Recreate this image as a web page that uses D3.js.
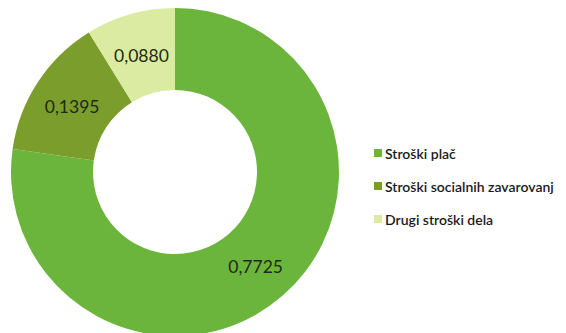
<!DOCTYPE html>
<html>
<head>
<meta charset="utf-8">
<script src="https://cdn.jsdelivr.net/npm/d3@7/dist/d3.min.js"></script>
<style>
  html, body { margin: 0; padding: 0; background: #fff; }
  svg { display: block; }
  text { font-family: Lato, "Open Sans", sans-serif; }
</style>
</head>
<body>
<svg id="chart" width="566" height="333"></svg>
<script>
// Labour cost structure (shares of total)
const categories = ["Stroški plač", "Stroški socialnih zavarovanj", "Drugi stroški dela"];
const values = [0.7725, 0.1395, 0.0880];
const valueLabels = ["0,7725", "0,1395", "0,0880"];
const colors = ["#6cb53c", "#7a9d2c", "#dbeca2"];

const svg = d3.select("#chart");
const cx = 175, cy = 172, outerR = 164, innerR = 82;

const pie = d3.pie().sort(null).value(d => d.value);
const arcs = pie(categories.map((c, i) => ({ name: c, value: values[i], label: valueLabels[i], color: colors[i] })));

const arc = d3.arc().innerRadius(innerR).outerRadius(outerR);

const g = svg.append("g").attr("transform", `translate(${cx},${cy})`);
g.selectAll("path.slice")
  .data(arcs)
  .join("path")
  .attr("class", "slice")
  .attr("d", arc)
  .attr("fill", d => d.data.color);

// Value labels at the middle of each ring segment
g.selectAll("text.val")
  .data(arcs)
  .join("text")
  .attr("class", "val")
  .attr("x", d => arc.centroid(d)[0])
  .attr("y", d => arc.centroid(d)[1] + 2)
  .attr("text-anchor", "middle")
  .attr("dominant-baseline", "central")
  .attr("font-size", 17.5)
  .attr("fill", "#1e2a14")
  .text(d => d.data.label);

// Legend
const legend = svg.append("g").attr("transform", "translate(374,153)");
const items = legend.selectAll("g.item")
  .data(categories)
  .join("g")
  .attr("class", "item")
  .attr("transform", (d, i) => `translate(0,${i * 33})`);
items.append("rect")
  .attr("x", 0).attr("y", -4)
  .attr("width", 8).attr("height", 8)
  .attr("fill", (d, i) => colors[i]);
items.append("text")
  .attr("x", 11)
  .attr("y", 0)
  .attr("dominant-baseline", "central")
  .attr("font-size", 14)
  .attr("font-weight", 600)
  .attr("fill", "#1a1a1a")
  .text(d => d);
</script>
</body>
</html>
